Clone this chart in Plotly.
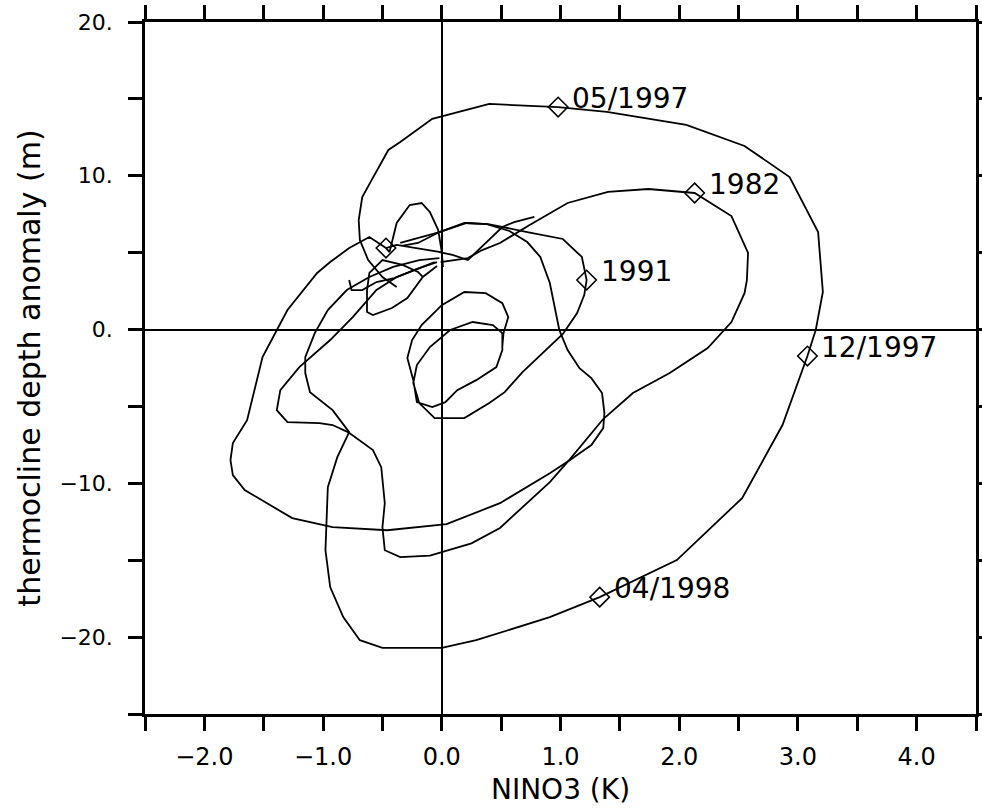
import plotly.graph_objects as go

# ---- data ----
loop_1997_x = [-0.38,-0.50,-0.62,-0.69,-0.70,-0.67,-0.59,-0.45,-0.35,-0.08,0.40,0.98,1.39,2.06,2.55,2.93,3.17,3.21,3.15,3.08,2.87,2.53,1.98,1.33,0.91,0.49,0.29,0.00,-0.50,-0.69,-0.83,-0.94,-0.98,-0.96,-0.88,-0.78,-0.92,-1.11,-1.15,-1.15,-1.07,-0.96,-0.80,-0.61,-0.41,-0.19,-0.02]
loop_1997_y = [2.77,3.42,4.52,5.82,7.12,8.62,9.73,11.68,12.20,13.70,14.67,14.47,14.15,13.31,11.94,9.92,6.34,2.44,-0.03,-1.72,-6.21,-10.96,-14.99,-17.40,-18.70,-19.75,-20.20,-20.70,-20.70,-20.20,-18.70,-16.75,-14.35,-10.25,-8.30,-6.67,-5.24,-4.07,-2.83,-1.79,-0.23,1.27,2.57,3.42,4.07,4.52,4.65]

loop_1982_x = [-0.01,0.22,0.34,0.49,0.74,1.06,1.40,1.74,2.13,2.44,2.58,2.57,2.55,2.44,2.24,1.92,1.61,1.36,1.08,0.91,0.49,0.25,-0.10,-0.35,-0.48,-0.50,-0.48,-0.51,-0.58,-0.79,-0.92,-1.03,-1.30,-1.39,-1.36,-1.20,-0.94,-0.75,-0.55,-0.38,-0.19,-0.04]
loop_1982_y = [4.39,4.65,5.17,5.63,6.80,8.23,8.95,9.14,8.88,7.38,4.98,3.22,2.37,0.49,-1.20,-2.83,-4.13,-5.82,-8.43,-9.92,-12.90,-13.90,-14.70,-14.80,-14.35,-12.85,-11.29,-8.95,-7.84,-6.67,-6.21,-6.08,-6.02,-5.24,-3.94,-2.44,-0.68,0.81,2.57,3.42,4.00,4.39]

loop_outer_x = [-0.01,-0.24,-0.38,-0.47,-0.61,-0.78,-0.94,-1.05,-1.30,-1.51,-1.64,-1.76,-1.78,-1.76,-1.66,-1.26,-0.92,-0.46,0.04,0.49,0.91,1.08,1.26,1.36,1.37,1.35,1.26,1.16,1.06,0.99,0.94,0.91,0.83,0.72,0.57,0.38,0.21,-0.02,-0.20,-0.35]
loop_outer_y = [5.04,5.30,5.50,5.30,6.02,5.30,4.39,3.68,1.27,-1.79,-5.89,-7.38,-8.49,-9.47,-10.44,-12.26,-12.85,-13.05,-12.65,-11.29,-9.34,-8.49,-7.51,-6.41,-5.43,-4.13,-3.16,-2.51,-1.33,-0.03,1.92,3.03,4.72,5.69,6.41,6.86,6.93,6.34,5.63,5.43]

loop_1991_x = [-0.35,-0.02,0.19,0.39,0.72,1.02,1.18,1.22,1.20,1.14,1.02,0.85,0.68,0.53,0.40,0.19,-0.06,-0.19,-0.24,-0.21,-0.10,0.07,0.26,0.43,0.51,0.51,0.46,0.29,0.13,0.03,-0.08,-0.21,-0.24,-0.29,-0.25,-0.17,0.00,0.19,0.37,0.51,0.56,0.52,0.51]
loop_1991_y = [5.63,6.34,6.93,6.86,6.34,5.89,4.72,3.22,2.24,1.07,-0.29,-1.53,-2.77,-4.07,-4.78,-5.76,-5.76,-4.78,-3.48,-2.31,-1.14,-0.03,0.49,0.29,-0.23,-1.33,-2.44,-3.29,-3.94,-4.72,-5.04,-4.72,-3.29,-1.85,-0.68,0.29,1.59,2.44,2.37,1.72,0.81,-0.23,-1.10]

tail_x = [0.78,0.61,0.51,0.38,0.22,0.09,-0.02]
tail_y = [7.32,6.99,6.67,5.69,4.52,4.85,5.04]

small_loop_x = [-0.16,-0.20,-0.33,-0.50,-0.61,-0.63,-0.63,-0.58,-0.42,-0.29,-0.16,-0.04]
small_loop_y = [3.42,3.74,4.20,4.52,3.68,2.57,1.14,0.94,1.40,2.05,3.42,4.13]

arch_x = [-0.47,-0.44,-0.38,-0.27,-0.17,-0.10,-0.03,0.00,0.01]
arch_y = [5.30,5.04,6.93,8.10,8.23,7.64,6.47,5.04,4.07]

hook_x = [-0.78,-0.76,-0.67,-0.55,-0.40,-0.23,-0.06]
hook_y = [3.22,2.57,2.57,3.09,3.35,3.87,4.39]

marker_x = [0.98, 2.13, 1.22, 3.08, 1.33, -0.47]
marker_y = [14.47, 8.88, 3.22, -1.72, -17.40, 5.30]
marker_labels = ["05/1997", "1982", "1991", "12/1997", "04/1998", ""]

x_tick_values = [-2.5,-2.0,-1.5,-1.0,-0.5,0.0,0.5,1.0,1.5,2.0,2.5,3.0,3.5,4.0,4.5]
x_tick_labels = ["","\u22122.0","","\u22121.0","","0.0","","1.0","","2.0","","3.0","","4.0",""]
y_tick_values = [-25,-20,-15,-10,-5,0,5,10,15,20]
y_tick_labels = ["","\u221220.","","\u221210.","","0.","","10.","","20."]

paths = [
    (loop_1997_x, loop_1997_y),
    (loop_1982_x, loop_1982_y),
    (loop_outer_x, loop_outer_y),
    (loop_1991_x, loop_1991_y),
    (tail_x, tail_y),
    (small_loop_x, small_loop_y),
    (arch_x, arch_y),
    (hook_x, hook_y),
]

FONT = "DejaVu Sans"
fig = go.Figure()
for xs, ys in paths:
    fig.add_trace(go.Scatter(x=xs, y=ys, mode="lines",
                             line=dict(color="black", width=1.8),
                             hoverinfo="skip", showlegend=False))

fig.add_trace(go.Scatter(x=marker_x, y=marker_y, mode="markers",
                         marker=dict(symbol="diamond-open", size=15, color="black",
                                     line=dict(width=1.6, color="black")),
                         hoverinfo="skip", showlegend=False))

for mx, my, lab in zip(marker_x, marker_y, marker_labels):
    if lab:
        fig.add_annotation(x=mx, y=my, text=lab, showarrow=False,
                           xanchor="left", yanchor="middle",
                           xshift=12, yshift=9,
                           font=dict(family=FONT, size=28, color="black"))

axis_common = dict(showline=True, linewidth=2.5, linecolor="black", mirror="ticks",
                   ticks="outside", ticklen=14, tickwidth=2.5, tickcolor="black",
                   showgrid=False, zeroline=True, zerolinecolor="black",
                   zerolinewidth=1.6, automargin=False)

fig.update_xaxes(range=[-2.5, 4.5], tickmode="array", tickvals=x_tick_values,
                 ticktext=x_tick_labels, tickfont=dict(family=FONT, size=24, color="black"),
                 title=dict(text="NINO3 (K)", font=dict(family=FONT, size=28, color="black"),
                            standoff=10),
                 ticklabelstandoff=5, **axis_common)
fig.update_yaxes(range=[-25, 20], tickmode="array", tickvals=y_tick_values,
                 ticktext=y_tick_labels, tickfont=dict(family=FONT, size=22, color="black"),
                 title=dict(text="thermocline depth anomaly (m)",
                            font=dict(family=FONT, size=30, color="black"), standoff=10),
                 ticklabelstandoff=11, **axis_common)

fig.update_layout(width=982, height=809, autosize=False,
                  margin=dict(l=145, r=6, t=22, b=95, autoexpand=False),
                  paper_bgcolor="white", plot_bgcolor="white", showlegend=False,
                  hovermode=False)

post = ("document.documentElement.style.overflow='hidden';"
        "document.body.style.margin='0';document.body.style.overflow='hidden';")

fig.write_html("out.html",
               config={"displayModeBar": False, "responsive": False},
               default_width="982px", default_height="809px",
               post_script=post)
